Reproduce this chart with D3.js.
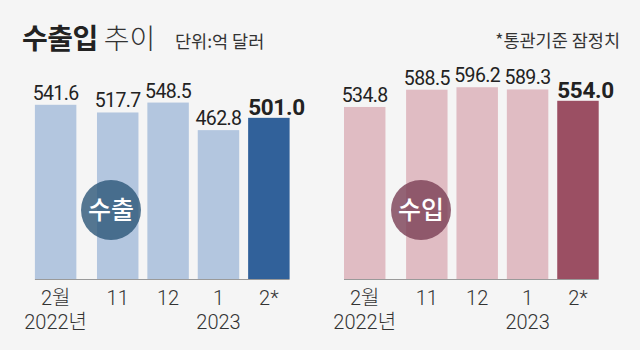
<!DOCTYPE html>
<html>
<head>
<meta charset="utf-8">
<script src="https://cdn.jsdelivr.net/npm/d3@7"></script>
<style>
  html, body { margin: 0; padding: 0; background: #f5f5f5; }
  svg { display: block; font-family: "Noto Sans CJK KR", "Noto Sans", sans-serif; }
  .num { font-family: Roboto, "Noto Sans CJK KR", sans-serif; }
</style>
</head>
<body>
<svg id="chart" width="640" height="350"></svg>
<script>
// Months shown on the x axis (first bar is Feb 2022, the rest Nov 2022 – Feb 2023)
const months = ["2월", "11", "12", "1", "2*"];
const yearLabels = ["2022년", "", "", "2023", ""];

// Values in 100 million USD
const exportValues = [541.6, 517.7, 548.5, 462.8, 501.0];
const importValues = [534.8, 588.5, 596.2, 589.3, 554.0];
const valueLabels = {
  export: ["541.6", "517.7", "548.5", "462.8", "501.0"],
  import: ["534.8", "588.5", "596.2", "589.3", "554.0"]
};

const svg = d3.select("#chart");
svg.append("rect").attr("width", 640).attr("height", 350).attr("fill", "#f5f5f5");

// Title
const title = svg.append("text").attr("x", 22).attr("y", 49).attr("fill", "#222");
title.append("tspan").attr("font-size", 28).attr("font-weight", 700).attr("letter-spacing", -0.5).text("수출입");
title.append("tspan").attr("font-size", 28).attr("font-weight", 300).attr("dx", 6).attr("fill", "#333").text("추이");
svg.append("text").attr("x", 175).attr("y", 48).attr("font-size", 17.5).attr("fill", "#333")
  .attr("font-weight", 400).text("단위:억 달러");
svg.append("text").attr("x", 620).attr("y", 47).attr("font-size", 17.5).attr("fill", "#333")
  .attr("text-anchor", "end").text("*통관기준 잠정치");

const baseline = 279;
const y = d3.scaleLinear().domain([0, 600]).range([baseline, 86]);

const panels = [
  { key: "export", values: exportValues, range: [46.6, 289.6], light: "#b3c6df", dark: "#31619a",
    circle: "#2c5678", name: "수출", cx: 111 },
  { key: "import", values: importValues, range: [355.7, 598.7], light: "#e0bcc3", dark: "#9b4f63",
    circle: "#7a3f55", name: "수입", cx: 421 }
];

panels.forEach(p => {
  const x = d3.scaleBand().domain(months).range(p.range).paddingInner(0.177).paddingOuter(0);
  // the first month is set apart from the consecutive months
  const bx = (d, i) => x(d) - (i === 0 ? 11.7 : 0);
  const g = svg.append("g");
  const last = months.length - 1;

  g.selectAll("rect.bar").data(months).join("rect")
    .attr("class", "bar")
    .attr("x", (d, i) => bx(d, i))
    .attr("width", x.bandwidth())
    .attr("y", (d, i) => y(p.values[i]))
    .attr("height", (d, i) => baseline - y(p.values[i]))
    .attr("fill", (d, i) => i === last ? p.dark : p.light);

  // baseline rule
  g.append("line")
    .attr("x1", bx(months[0], 0)).attr("x2", bx(months[last], last) + x.bandwidth())
    .attr("y1", baseline + 0.5).attr("y2", baseline + 0.5)
    .attr("stroke", "#9a9a9a").attr("stroke-width", 1);

  // value labels
  g.selectAll("text.val").data(months).join("text")
    .attr("class", "val num")
    .attr("x", (d, i) => i === last ? bx(d, i) : bx(d, i) + x.bandwidth() / 2)
    .attr("y", (d, i) => y(p.values[i]) - (i === last ? 3 : 5))
    .attr("text-anchor", (d, i) => i === last ? "start" : "middle")
    .attr("font-size", (d, i) => i === last ? 22.5 : 19.5)
    .attr("font-weight", (d, i) => i === last ? 700 : 400)
    .attr("letter-spacing", (d, i) => i === last ? -0.3 : -0.6)
    .attr("fill", "#222")
    .text((d, i) => valueLabels[p.key][i]);

  // month labels, with the year on a second line where it changes
  g.selectAll("text.mon").data(months).join("text")
    .attr("class", "mon num")
    .attr("x", (d, i) => bx(d, i) + x.bandwidth() / 2)
    .attr("y", 305)
    .attr("text-anchor", "middle")
    .attr("font-size", 20).attr("font-weight", 300).attr("fill", "#333")
    .text(d => d);
  g.selectAll("text.yr").data(yearLabels.filter(t => t !== "")).join("text")
    .attr("class", "yr num")
    .attr("x", d => { const i = yearLabels.indexOf(d); return bx(months[i], i) + x.bandwidth() / 2; })
    .attr("y", 329)
    .attr("text-anchor", "middle")
    .attr("font-size", 20).attr("font-weight", 300).attr("fill", "#333")
    .text(d => d);

  // series badge
  g.append("circle").attr("cx", p.cx).attr("cy", 210).attr("r", 30)
    .attr("fill", p.circle).attr("fill-opacity", 0.8);
  g.append("text").attr("x", p.cx).attr("y", 219).attr("text-anchor", "middle")
    .attr("font-size", 25).attr("font-weight", 500).attr("fill", "#fff").text(p.name);
});
</script>
</body>
</html>
